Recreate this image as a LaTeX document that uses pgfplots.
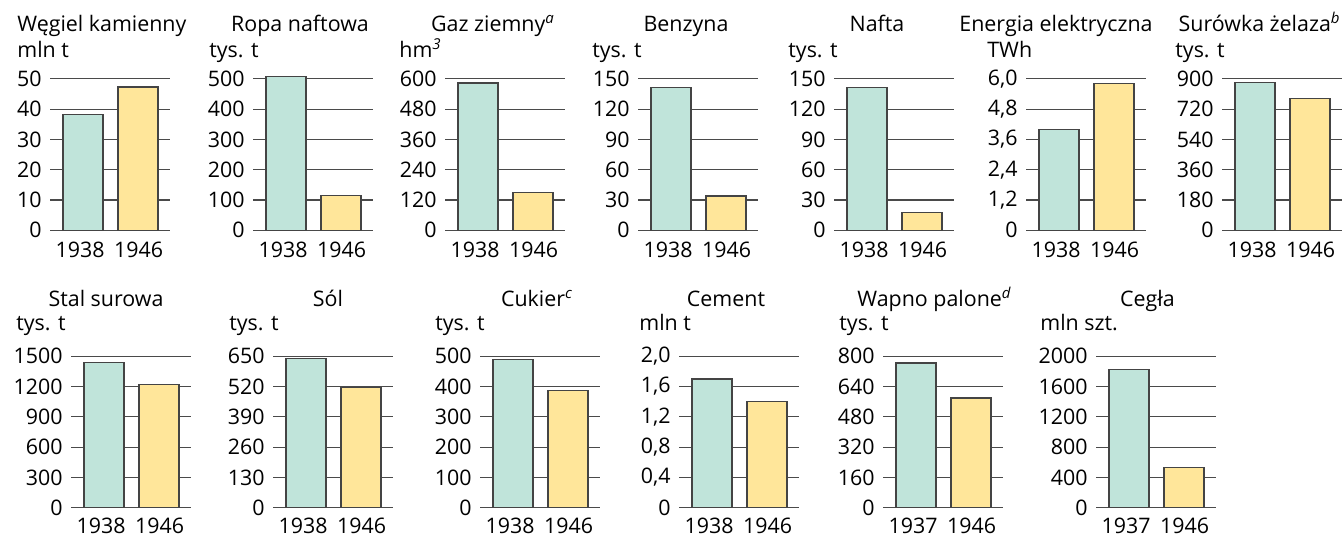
\documentclass[border=0pt]{standalone}
\usepackage{fontspec}
\setmainfont{Open Sans}
\usepackage{pgfplots}
\pgfplotsset{compat=1.18}
\definecolor{cA}{HTML}{C0E4DA}
\definecolor{cB}{HTML}{FFE69A}
\definecolor{edge}{HTML}{444444}
\definecolor{gridc}{HTML}{4A4A4A}
\newcommand{\fs}{\fontsize{10.7pt}{12.5pt}\selectfont}
\pgfplotsset{
  panel/.style={
    scale only axis, width=60pt, height=75.75pt,
    xmin=0, xmax=120, ymin=0, clip=false,
    axis line style={draw=none}, tick style={draw=none}, major tick length=0pt,
    ymajorgrids, grid style={gridc, line width=0.55pt},
    xtick={30,88.5},
    tick label style={font=\fs},
    /pgf/number format/assume math mode=true,
    yticklabel style={anchor=east, inner sep=0pt, xshift=-4pt},
    xticklabel style={anchor=base, inner sep=0pt, yshift=-13.6pt},
    ybar, bar width=20pt, bar shift=0pt,
  }
}
% #1 left px, #2 bottom px, #3 ymax, #4 yticks, #5 ytick labels, #6 v1, #7 v2, #8 first year
\newcommand{\panel}[8]{%
\begin{axis}[panel, at={({#1*0.5pt},{-#2*0.5pt})}, anchor=south west,
  ymax=#3, ytick={#4}, yticklabels={#5}, xticklabels={#8,1946}]
\addplot[fill=cA, draw=edge, line width=0.6pt] coordinates {(33,#6)};
\addplot[fill=cB, draw=edge, line width=0.6pt] coordinates {(88,#7)};
\end{axis}}
\newcommand{\T}[4][base]{\node[anchor=#1, inner sep=0pt] at ({#2*0.5pt},{-#3*0.5pt}) {#4};}
\begin{document}
\begin{tikzpicture}[font=\fs]
\useasboundingbox (0,0) rectangle (671.5pt,-268.5pt);
% top row
\panel{50}{230.3}{50}{0,10,20,30,40,50}{0,10,20,30,40,50}{38.1}{47.3}{1938}
\panel{253}{230.3}{500}{0,100,200,300,400,500}{0,100,200,300,400,500}{507}{116}{1938}
\panel{445}{230.3}{600}{0,120,240,360,480,600}{0,120,240,360,480,600}{583}{149}{1938}
\panel{638}{230.3}{150}{0,30,60,90,120,150}{0,30,60,90,120,150}{141}{34}{1938}
\panel{834}{230.3}{150}{0,30,60,90,120,150}{0,30,60,90,120,150}{141}{18}{1938}
\panel{1026}{230.3}{6}{0,1.2,2.4,3.6,4.8,6}{0,{1,2},{2,4},{3,6},{4,8},{6,0}}{4.0}{5.8}{1938}
\panel{1222}{230.3}{900}{0,180,360,540,720,900}{0,180,360,540,720,900}{880}{782}{1938}
% bottom row
\pgfplotsset{panel/.append style={xticklabel style={yshift=0.9pt}}}
\panel{71}{507.8}{1500}{0,300,600,900,1200,1500}{0,300,600,900,1200,1500}{1440}{1220}{1938}
\panel{273}{507.8}{650}{0,130,260,390,520,650}{0,130,260,390,520,650}{641}{516}{1938}
\panel{480}{507.8}{500}{0,100,200,300,400,500}{0,100,200,300,400,500}{490}{387}{1938}
\panel{679}{507.8}{2}{0,0.4,0.8,1.2,1.6,2}{0,{0,4},{0,8},{1,2},{1,6},{2,0}}{1.70}{1.40}{1938}
\panel{883}{507.8}{800}{0,160,320,480,640,800}{0,160,320,480,640,800}{765}{580}{1937}
\panel{1096}{507.8}{2000}{0,400,800,1200,1600,2000}{0,400,800,1200,1600,2000}{1829}{527}{1937}
% titles top
\T[base west]{17}{31.5}{Węgiel kamienny}
\T[base west]{17}{57}{mln t}
\T{300}{31.5}{Ropa naftowa}
\T[base west]{209}{57}{tys. t}
\T{493}{31.5}{Gaz ziemny\textsuperscript{\itshape a}}
\T[base west]{399}{57}{hm\textsuperscript{\itshape 3}}
\T{686}{31.5}{Benzyna}
\T[base west]{592}{57}{tys. t}
\T{877}{31.5}{Nafta}
\T[base west]{788}{57}{tys. t}
\T{1056}{31.5}{Energia elektryczna}
\T[base west]{987}{57}{TWh}
\T[base east]{1341}{31.5}{Surówka żelaza\textsuperscript{\itshape b}}
\T[base west]{1175}{57}{tys. t}
% titles bottom
\T{106}{306.5}{Stal surowa}
\T[base west]{16}{330}{tys. t}
\T{328}{306.5}{Sól}
\T[base west]{229}{330}{tys. t}
\T{537}{306.5}{Cukier\textsuperscript{\itshape c}}
\T[base west]{435}{330}{tys. t}
\T{726}{306.5}{Cement}
\T[base west]{639}{330}{mln t}
\T{934.5}{306.5}{Wapno palone\textsuperscript{\itshape d}}
\T[base west]{839}{330}{tys. t}
\T{1147.5}{306.5}{Cegła}
\T[base west]{1040}{330}{mln szt.}
\end{tikzpicture}
\end{document}
